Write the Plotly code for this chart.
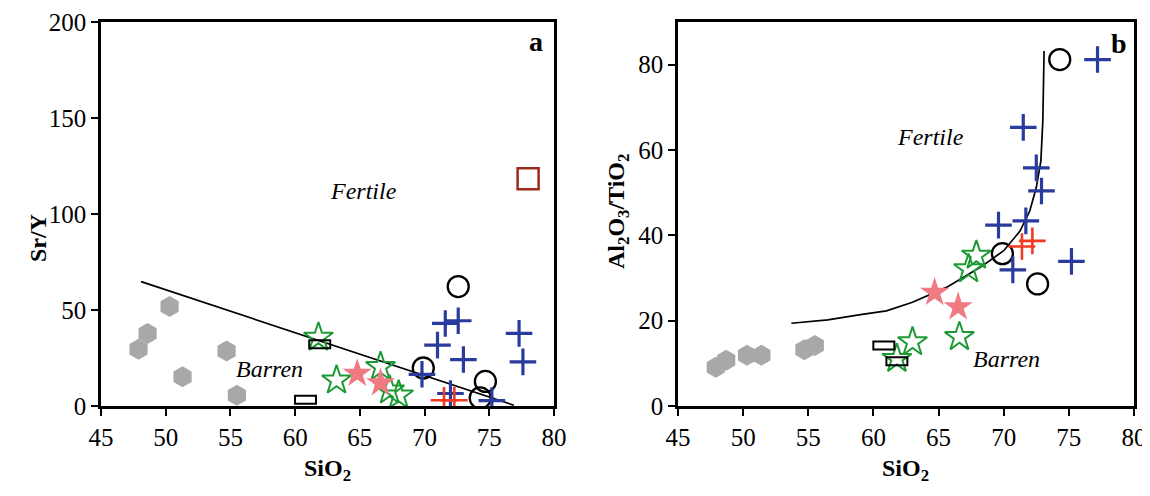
import plotly.graph_objects as go

# ---------------- Panel a: Sr/Y vs SiO2 ----------------
a_hex_x = [50.3, 48.6, 47.9, 54.7, 51.3, 55.5]
a_hex_y = [51.8, 37.8, 29.5, 28.7, 15.2, 5.6]
a_rect_x = [61.9, 60.8]
a_rect_y = [32.2, 3.3]
a_gstar_x = [61.8, 63.2, 66.6, 67.3, 68.0]
a_gstar_y = [35.7, 13.4, 20.4, 8.2, 5.6]
a_pstar_x = [64.8, 66.6]
a_pstar_y = [16.9, 12.0]
a_circ_x = [72.6, 69.9, 74.7, 74.3]
a_circ_y = [62.2, 19.8, 12.8, 4.2]
a_blue_x = [71.6, 72.6, 71.0, 73.0, 69.8, 77.3, 77.6, 72.0, 75.2]
a_blue_y = [43.0, 44.4, 31.7, 24.2, 16.5, 37.8, 23.0, 6.5, 2.8]
a_red_x = [71.5, 72.3]
a_red_y = [3.0, 3.0]
a_sq_x = [78.0]
a_sq_y = [118.3]
a_line_x = [48.1, 76.9]
a_line_y = [64.8, 0.4]

# ---------------- Panel b: Al2O3/TiO2 vs SiO2 ----------------
b_hex_x = [47.9, 48.7, 50.3, 51.4, 54.7, 55.5]
b_hex_y = [9.1, 10.7, 11.9, 11.9, 13.2, 14.2]
b_rect_x = [60.8, 61.8]
b_rect_y = [14.2, 10.5]
b_gstar_x = [63.0, 61.8, 66.6, 67.3, 67.9]
b_gstar_y = [15.0, 11.1, 16.2, 32.1, 35.3]
b_pstar_x = [64.7, 66.5]
b_pstar_y = [26.6, 23.2]
b_circ_x = [74.3, 69.9, 72.6]
b_circ_y = [81.2, 35.7, 28.6]
b_blue_x = [77.2, 71.5, 72.5, 72.9, 69.6, 71.7, 70.7, 75.2]
b_blue_y = [81.2, 65.3, 55.8, 50.4, 42.4, 43.4, 31.9, 33.9]
b_red_x = [71.4, 72.2]
b_red_y = [37.4, 38.7]
b_curve_x = [53.7, 56.5, 59.0, 61.0, 63.0, 65.6, 68.2, 70.0, 71.25, 72.0, 72.5, 72.85, 73.0, 73.1]
b_curve_y = [19.4, 20.2, 21.4, 22.3, 24.3, 27.8, 32.5, 36.4, 41.0, 45.7, 51.2, 57.4, 66.7, 83.2]

x_ticks = [45, 50, 55, 60, 65, 70, 75, 80]
a_y_ticks = [0, 50, 100, 150, 200]
b_y_ticks = [0, 20, 40, 60, 80]

GRAY = "#A8A8A8"
GREEN = "#1E9A35"
PINK = "#F07A82"
BLUE = "#2A3B9E"
RED = "#F23A22"
DARKRED = "#9E2A1E"
FONT = "Liberation Serif, Times New Roman, Times, serif"

fig = go.Figure()


def add_panel(xa, ya, hx, hy, gx, gy, px, py, cx, cy, bx, by, rx, ry, lx, ly):
    fig.add_trace(go.Scatter(x=lx, y=ly, mode="lines", line=dict(color="black", width=1.7),
                             xaxis=xa, yaxis=ya, hoverinfo="skip"))
    fig.add_trace(go.Scatter(x=hx, y=hy, mode="markers", xaxis=xa, yaxis=ya,
                             marker=dict(symbol="hexagon", size=21, color=GRAY, line=dict(width=0))))
    fig.add_trace(go.Scatter(x=gx, y=gy, mode="markers", xaxis=xa, yaxis=ya,
                             marker=dict(symbol="star-open", size=22, color=GREEN, line=dict(color=GREEN, width=2))))
    fig.add_trace(go.Scatter(x=px, y=py, mode="markers", xaxis=xa, yaxis=ya,
                             marker=dict(symbol="star", size=22, color=PINK, line=dict(width=0))))
    fig.add_trace(go.Scatter(x=cx, y=cy, mode="markers", xaxis=xa, yaxis=ya,
                             marker=dict(symbol="circle-open", size=21, color="black", line=dict(color="black", width=2.3))))
    fig.add_trace(go.Scatter(x=bx, y=by, mode="markers", xaxis=xa, yaxis=ya,
                             marker=dict(symbol="cross-thin-open", size=19, color=BLUE, line=dict(color=BLUE, width=3.2))))
    fig.add_trace(go.Scatter(x=rx, y=ry, mode="markers", xaxis=xa, yaxis=ya,
                             marker=dict(symbol="cross-thin-open", size=19, color=RED, line=dict(color=RED, width=2.6))))


add_panel("x", "y", a_hex_x, a_hex_y, a_gstar_x, a_gstar_y, a_pstar_x, a_pstar_y,
          a_circ_x, a_circ_y, a_blue_x, a_blue_y, a_red_x, a_red_y, a_line_x, a_line_y)
fig.add_trace(go.Scatter(x=a_sq_x, y=a_sq_y, mode="markers", xaxis="x", yaxis="y",
                         marker=dict(symbol="square-open", size=21, color=DARKRED, line=dict(color=DARKRED, width=2.5))))
add_panel("x2", "y2", b_hex_x, b_hex_y, b_gstar_x, b_gstar_y, b_pstar_x, b_pstar_y,
          b_circ_x, b_circ_y, b_blue_x, b_blue_y, b_red_x, b_red_y, b_curve_x, b_curve_y)

shapes = []
for xr, yr, rxs, rys in [("x", "y", a_rect_x, a_rect_y), ("x2", "y2", b_rect_x, b_rect_y)]:
    for xv, yv in zip(rxs, rys):
        shapes.append(dict(type="rect", xref=xr, yref=yr, xsizemode="pixel", ysizemode="pixel",
                           xanchor=xv, yanchor=yv, x0=-10.5, x1=10.5, y0=-4, y1=4,
                           line=dict(color="black", width=2), fillcolor="rgba(0,0,0,0)"))

ax_common = dict(showline=True, linecolor="black", linewidth=2.5, mirror=True,
                 ticks="outside", ticklen=7, tickwidth=2, tickcolor="black",
                 showgrid=False, zeroline=False, automargin=False, ticklabeloverflow="allow",
                 tickfont=dict(family=FONT, size=25, color="black"))
title_font = dict(family=FONT, size=24, color="black")

# the html body has a default 8px margin: the figure is placed at (8, 8) in the page
OFF = 8
W, H = 1160, 496 - 2 * OFF - 4
L, T = 101 - OFF, 22 - OFF
R = W - (1134 - OFF)
B = H - (406 - OFF)
PW, PH = W - L - R, H - T - B


def px_x(p):
    return (p - OFF - L) / PW


def px_y(p):
    return 1 - (p - OFF - T) / PH


def title_ann(text, xp, yp, angle=0):
    return dict(text=text, x=px_x(xp), y=px_y(yp), xref="paper", yref="paper",
                xanchor="center", yanchor="middle", showarrow=False, textangle=angle,
                font=title_font)


fig.update_layout(
    width=W, height=H,
    margin=dict(l=L, r=R, t=T, b=B, autoexpand=False),
    paper_bgcolor="white", plot_bgcolor="white",
    showlegend=False,
    shapes=shapes,
    xaxis=dict(domain=[0, px_x(554)], range=[45, 80], tickvals=x_ticks, anchor="y", **ax_common),
    yaxis=dict(domain=[0, 1], range=[0, 200], tickvals=a_y_ticks, anchor="x", **ax_common),
    xaxis2=dict(domain=[px_x(678), 1], range=[45, 80], tickvals=x_ticks, anchor="y2", **ax_common),
    yaxis2=dict(domain=[0, 1], range=[0, 90], tickvals=b_y_ticks, anchor="x2", **ax_common),
    annotations=[
        title_ann("<b>SiO<sub>2</sub></b>", 327, 470),
        title_ann("<b>SiO<sub>2</sub></b>", 905, 470),
        title_ann("<b>Sr/Y</b>", 38, 238, -90),
        title_ann("<b>Al<sub>2</sub>O<sub>3</sub>/TiO<sub>2</sub></b>", 618, 212, -90),
        dict(text="<i>Fertile</i>", x=65.3, y=112, xref="x", yref="y", showarrow=False,
             xanchor="center", yanchor="middle", font=title_font),
        dict(text="<i>Barren</i>", x=58.0, y=19.5, xref="x", yref="y", showarrow=False,
             xanchor="center", yanchor="middle", font=title_font),
        dict(text="<b>a</b>", x=79.3, y=190, xref="x", yref="y", showarrow=False,
             xanchor="right", yanchor="middle", font=dict(family=FONT, size=28, color="black")),
        dict(text="<i>Fertile</i>", x=64.4, y=63, xref="x2", yref="y2", showarrow=False,
             xanchor="center", yanchor="middle", font=title_font),
        dict(text="<i>Barren</i>", x=70.2, y=11.1, xref="x2", yref="y2", showarrow=False,
             xanchor="center", yanchor="middle", font=title_font),
        dict(text="<b>b</b>", x=79.6, y=85, xref="x2", yref="y2", showarrow=False,
             xanchor="right", yanchor="middle", font=dict(family=FONT, size=28, color="black")),
    ],
)

fig.write_html(
    "out.html",
    post_script="document.documentElement.style.overflow='hidden';document.body.style.overflow='hidden';",
)
